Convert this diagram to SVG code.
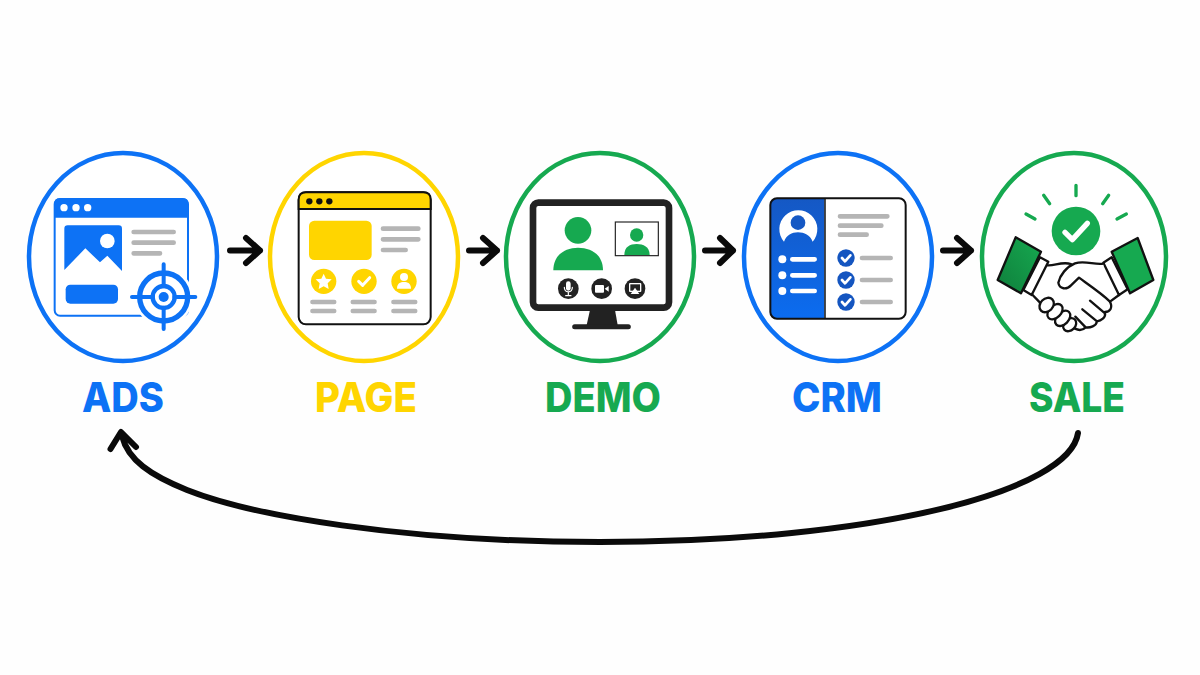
<svg xmlns="http://www.w3.org/2000/svg" width="1200" height="675" viewBox="0 0 1200 675">
<style>
.ring{fill:#fff;stroke-width:4.5}
.label{font-family:Inter,"Liberation Sans",sans-serif;font-weight:800;font-size:41px;text-anchor:middle}
.arrow{fill:none;stroke:#0a0a0a;stroke-width:6;stroke-linecap:round;stroke-linejoin:round}
.blue{fill:#0d72f5}.yellow{fill:#ffd500}.green{fill:#16a950}.dark{fill:#222}
.gl{stroke:#b5b5b5;stroke-linecap:round;fill:none}
.wl{stroke:#fff;stroke-linecap:round;stroke-linejoin:round;fill:none}
.ink{stroke:#111;fill:none;stroke-linecap:round;stroke-linejoin:round}
</style>
<defs>
<linearGradient id="panel" x1="0" y1="0" x2="0" y2="1"><stop offset="0" stop-color="#1558c4"/><stop offset="1" stop-color="#0b6cf0"/></linearGradient>
<linearGradient id="cuffL" x1="1" y1="0" x2="0" y2="1"><stop offset="0" stop-color="#16a950"/><stop offset="1" stop-color="#0f7f3c"/></linearGradient>
</defs>
<rect width="1200" height="675" fill="#fefefe"/>

<g id="connectors">
<path class="arrow" d="M230 250.500H260M246 238L260 250.500L246 263"/>
<path class="arrow" d="M469 250.500H497M483 238L497 250.500L483 263"/>
<path class="arrow" d="M705 250.500H733M720 238L733 250.500L720 263"/>
<path class="arrow" d="M943 250.500H971M957 238L971 250.500L957 263"/>
<path class="arrow" d="M1078 433C1070 490 880 542 600 542C400 542 250 515 187 490C150 475 128 460 122 436M110.500 449L121 432L136 447"/>
</g>

<g id="node-ads">
<ellipse class="ring" cx="123" cy="257" rx="94" ry="104" stroke="#0d72f5"/>
<text class="label blue" x="123" y="412" textLength="82" lengthAdjust="spacingAndGlyphs">ADS</text>
<g transform="translate(20,145) scale(.33333)">
<rect x="104" y="162" width="400" height="350" rx="16" fill="#fff" stroke="#0d72f5" stroke-width="6"/>
<path class="blue" d="M103 218V176Q103 160 119 160H489Q505 160 505 176V218Z"/>
<circle cx="132" cy="188" r="11" fill="#fff"/><circle cx="168" cy="188" r="11" fill="#fff"/><circle cx="203" cy="188" r="11" fill="#fff"/>
<path class="blue" d="M133 375V251Q133 241 143 241H296Q306 241 306 251V378L262 332L240 352L196 310Z"/>
<circle cx="262" cy="288" r="22" fill="#fff"/>
<path class="gl" stroke-width="14" d="M341 261H461M341 293H461M341 325H420"/>
<rect class="blue" x="137" y="419" width="157" height="57" rx="14"/>
<circle cx="431" cy="456" r="88" fill="#fff"/>
<g fill="none" stroke="#0d72f5">
<circle cx="431" cy="456" r="72" stroke-width="16"/>
<circle cx="431" cy="456" r="33" stroke-width="13"/>
<path stroke-width="12" stroke-linecap="round" d="M431 358V424M431 488V552M336 456H399M463 456H526"/>
</g>
<circle class="blue" cx="431" cy="456" r="15"/>
</g>
</g>

<g id="node-page">
<ellipse class="ring" cx="364" cy="257" rx="94" ry="104" stroke="#ffd500"/>
<text class="label yellow" x="366" y="412" textLength="102" lengthAdjust="spacingAndGlyphs">PAGE</text>
<g transform="translate(260,145) scale(.33333)">
<rect x="116" y="142" width="396" height="396" rx="22" fill="#fff" stroke="#111" stroke-width="6"/>
<path class="yellow" d="M116 192V164Q116 142 138 142H490Q512 142 512 164V192Z" stroke="#111" stroke-width="6"/>
<circle cx="148" cy="169" r="9.500" fill="#111"/><circle cx="178" cy="169" r="9.500" fill="#111"/><circle cx="208" cy="169" r="9.500" fill="#111"/>
<rect class="yellow" x="147" y="227" width="188" height="118" rx="16"/>
<path class="gl" stroke-width="14" d="M369 251H475M369 283H475M369 315H437"/>
<circle class="yellow" cx="191" cy="409" r="38"/><circle class="yellow" cx="312" cy="409" r="38"/><circle class="yellow" cx="432" cy="409" r="38"/>
<path fill="#fff" d="M191 386L198 401L215 403L203 415L206 432L191 424L176 432L179 415L167 403L184 401Z"/>
<path class="wl" stroke-width="9" d="M296 409L308 421L329 398"/>
<circle cx="432" cy="396" r="12" fill="#fff"/>
<path fill="#fff" d="M411 431C411 415 421 411 432 411C443 411 453 415 453 431Z"/>
<path class="gl" stroke-width="13" d="M157 471H223M157 498H223M278 471H344M278 498H344M400 471H466M400 498H466"/>
</g>
</g>

<g id="node-demo">
<ellipse class="ring" cx="600" cy="257" rx="94" ry="104" stroke="#16a950"/>
<text class="label green" x="603" y="412" textLength="116" lengthAdjust="spacingAndGlyphs">DEMO</text>
<g transform="translate(495,145) scale(.33333)">
<path class="dark" d="M285 495H360L368 540H275Z"/>
<path d="M239 545H400" stroke="#222" stroke-width="15" stroke-linecap="round"/>
<rect x="114" y="173" width="408" height="315" rx="16" fill="#fff" stroke="#222" stroke-width="20"/>
<circle class="green" cx="249" cy="256" r="40"/>
<path class="green" d="M175 376C175 330 210 308 249 308C290 308 324 330 324 376Z"/>
<rect x="361" y="231" width="129" height="101" fill="#fff" stroke="#222" stroke-width="3.500"/>
<circle class="green" cx="425" cy="270" r="20"/>
<path class="green" d="M388 330C388 305 405 297 425 297C445 297 464 305 464 330Z"/>
<circle class="dark" cx="220" cy="431" r="31"/><circle class="dark" cx="320" cy="431" r="31"/><circle class="dark" cx="420" cy="431" r="31"/>
<rect x="213" y="409" width="14" height="28" rx="7" fill="#fff"/>
<path class="wl" stroke-width="3.500" d="M208 427C208 445 232 445 232 427M220 442V451M212 452H228"/>
<rect x="300" y="420" width="27" height="23" rx="3" fill="#fff"/>
<path fill="#fff" d="M329 431L341 423V440Z"/>
<rect x="402" y="414" width="37" height="27" rx="3" fill="#fff"/>
<rect x="406" y="418" width="29" height="19" fill="#222"/>
<path fill="#fff" d="M420 428L433 447H407Z"/>
</g>
</g>

<g id="node-crm">
<ellipse class="ring" cx="838" cy="257" rx="94" ry="104" stroke="#0d72f5"/>
<text class="label blue" x="837" y="412" textLength="90" lengthAdjust="spacingAndGlyphs">CRM</text>
<g transform="translate(735,145) scale(.33333)">
<rect x="106" y="160" width="406" height="361" rx="20" fill="#fff"/>
<path fill="url(#panel)" d="M268 160H126Q106 160 106 180V501Q106 521 126 521H268Z"/>
<rect x="106" y="160" width="406" height="361" rx="20" fill="none" stroke="#111" stroke-width="6"/>
<path d="M270 160V521" stroke="#111" stroke-width="4.500"/>
<path fill="#fff" d="M147 290A57 57 0 1 1 233 290C225 270 208 262 189 262C170 262 155 270 147 290Z"/>
<circle cx="189" cy="233" r="22" fill="#1558c4"/>
<circle cx="142" cy="343" r="12" fill="#fff"/><circle cx="142" cy="391" r="12" fill="#fff"/><circle cx="142" cy="438" r="12" fill="#fff"/>
<path class="wl" stroke-width="14" d="M172 343H239M172 391H239M172 438H239"/>
<path class="gl" stroke-width="14" d="M315 214H457M315 242H439M315 269H395M381 339H467M381 405H467M381 471H467"/>
<circle cx="333" cy="339" r="26" fill="#1455c0"/><circle cx="333" cy="405" r="26" fill="#1455c0"/><circle cx="333" cy="471" r="26" fill="#1455c0"/>
<path class="wl" stroke-width="8" d="M321 339L330 349L346 331M321 405L330 415L346 397M321 471L330 481L346 463"/>
</g>
</g>

<g id="node-sale">
<ellipse class="ring" cx="1074" cy="257" rx="92" ry="104" stroke="#16a950"/>
<text class="label green" x="1077" y="412" textLength="96" lengthAdjust="spacingAndGlyphs">SALE</text>
<g transform="translate(970,145) scale(.33333)">
<path stroke="#16a950" stroke-width="10" stroke-linecap="round" fill="none" d="M318 121V152M221 151L239 176M416 151L398 176M168 207L195 222M469 207L441 222"/>
<circle class="green" cx="318" cy="258" r="73"/>
<path class="wl" stroke-width="16" d="M285 262L307 284L352 235"/>
</g>
<g transform="translate(995,230) scale(.33333)">
<path fill="#fff" d="M160 102C180 105 205 92 235 100C265 90 300 105 325 100L372 195L345 215L352 238L330 262L305 280L270 295L240 300L135 218L110 190Z"/>
<path fill="url(#cuffL)" stroke="#111" stroke-width="7" stroke-linejoin="round" d="M62 22L138 65L78 190L8 150Z"/>
<path class="green" stroke="#111" stroke-width="7" stroke-linejoin="round" d="M350 65L428 24L475 150L405 190Z"/>
<path fill="#fff" stroke="#111" stroke-width="7" stroke-linejoin="round" d="M135 82L160 95L110 195L85 180Z"/>
<path fill="#fff" stroke="#111" stroke-width="7" stroke-linejoin="round" d="M325 98L350 82L398 178L372 195Z"/>
<g class="ink" stroke-width="7">
<path d="M158 106C178 108 200 94 228 102"/>
<path fill="#fff" d="M325 101C300 106 270 90 240 100C215 110 195 135 190 158C193 178 215 180 228 166L252 143C275 160 320 190 344 214C355 232 345 246 330 246"/>
<path d="M372 195L345 215M110 192L135 218"/>
<path d="M285 212L330 250C333 262 318 272 306 274L262 238M306 274C304 288 285 294 272 292L241 260M272 292C264 300 252 302 240 296"/>
</g>
<g fill="#fff" stroke="#111" stroke-width="7">
<ellipse cx="224" cy="284" rx="22" ry="17" transform="rotate(-45 224 284)"/>
<ellipse cx="203" cy="265" rx="27" ry="18" transform="rotate(-45 203 265)"/>
<ellipse cx="180" cy="245" rx="27" ry="18" transform="rotate(-45 180 245)"/>
<ellipse cx="155" cy="225" rx="24" ry="19" transform="rotate(-45 155 225)"/>
</g>
</g>
</g>
</svg>
